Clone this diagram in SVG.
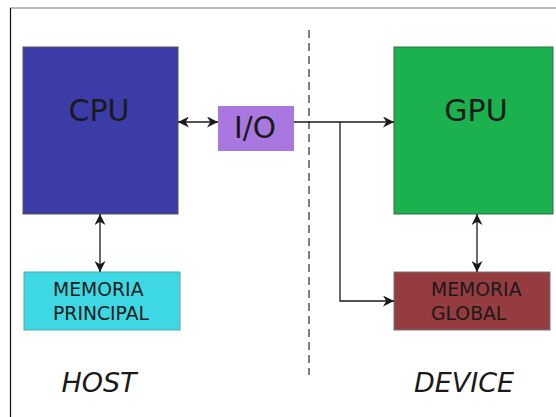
<svg xmlns="http://www.w3.org/2000/svg" width="556" height="417" viewBox="0 0 556 417">
<defs>
<marker id="ah" viewBox="0 0 10 10" refX="10" refY="5" markerWidth="12" markerHeight="11" markerUnits="userSpaceOnUse" orient="auto-start-reverse">
<path d="M0,0 L10,5 L0,10 L3,5 z" fill="#1a1a1a"/>
</marker>
</defs>
<style>
.lbl{font-family:"DejaVu Sans",sans-serif;fill:#1a1a1a}
.big{font-size:30px;text-anchor:middle}
.mem{font-size:18.8px}
.side{font-size:27px;font-style:italic;text-anchor:middle}
.con{stroke:#1a1a1a;stroke-width:1.3;fill:none}
</style>
<rect width="556" height="417" fill="#ffffff"/>
<line x1="10" y1="8" x2="556" y2="8" stroke="#777" stroke-width="1.2"/>
<line x1="10.5" y1="8" x2="10.5" y2="417" stroke="#111" stroke-width="1.2"/>
<line x1="309" y1="30" x2="309" y2="375" stroke="#555" stroke-width="1.5" stroke-dasharray="8,5"/>
<g id="cpu">
<rect x="23" y="47" width="155" height="167" fill="#3c3ca8" stroke="#555" stroke-width="1"/>
<text class="lbl big" x="99" y="121">CPU</text>
</g>
<g id="gpu">
<rect x="394" y="47" width="159" height="167" fill="#1ab14e" stroke="#3a6a4a" stroke-width="1"/>
<text class="lbl big" x="476" y="121">GPU</text>
</g>
<g id="io">
<rect x="218" y="106" width="76" height="45" fill="#a878e0"/>
<text class="lbl big" x="255" y="138" style="font-size:29.5px">I/O</text>
</g>
<g id="memoria-principal">
<rect x="24" y="272" width="156" height="58" fill="#3dd8e3" stroke="#5aa" stroke-width="1"/>
<text class="lbl mem" x="53" y="296">MEMORIA</text>
<text class="lbl mem" x="53" y="320">PRINCIPAL</text>
</g>
<g id="memoria-global">
<rect x="394" y="272" width="156" height="58" fill="#943c40" stroke="#777" stroke-width="1"/>
<text class="lbl mem" x="431" y="296">MEMORIA</text>
<text class="lbl mem" x="431" y="320">GLOBAL</text>
</g>
<g id="host"><text class="lbl side" x="99" y="392">HOST</text></g>
<g id="device"><text class="lbl side" x="464" y="392">DEVICE</text></g>
<g id="connectors">
<line class="con" x1="178" y1="122" x2="218" y2="122" marker-start="url(#ah)" marker-end="url(#ah)"/>
<line class="con" x1="294" y1="122" x2="394" y2="122" marker-end="url(#ah)"/>
<polyline class="con" points="340,122 340,301 394,301" marker-end="url(#ah)"/>
<line class="con" x1="100" y1="214" x2="100" y2="272" marker-start="url(#ah)" marker-end="url(#ah)"/>
<line class="con" x1="477" y1="214" x2="477" y2="272" marker-start="url(#ah)" marker-end="url(#ah)"/>
</g>
</svg>
